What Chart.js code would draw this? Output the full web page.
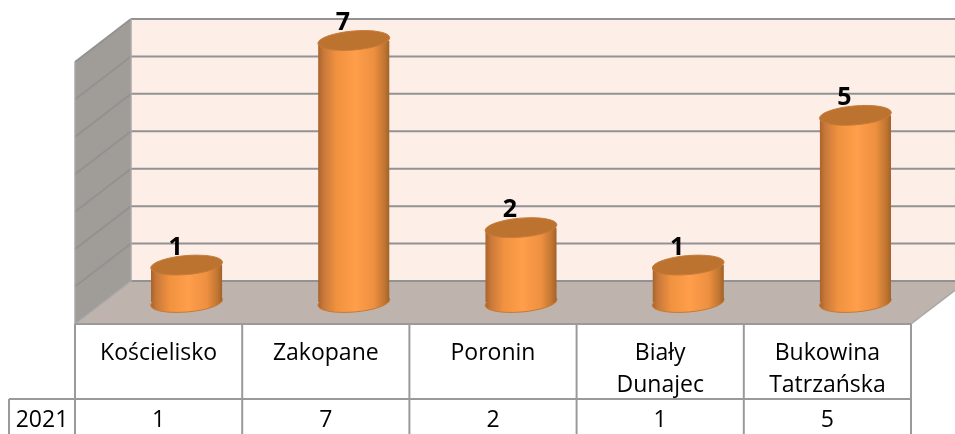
<!DOCTYPE html>
<html><head><meta charset="utf-8">
<style>html,body{margin:0;padding:0;background:#fff}canvas{display:block}</style>
<script src="https://cdn.jsdelivr.net/npm/chart.js@4"></script></head>
<body><canvas id="c" width="955" height="434"></canvas>
<script>
const categories=[['Kościelisko'],['Zakopane'],['Poronin'],['Biały','Dunajec'],['Bukowina','Tatrzańska']];
const values=[1,7,2,1,5];
const seriesName='2021';
const FONT='"Open Sans"';
const DX=28,DY=21.5,RX=36,RY=9.5,ROT=-0.085;
const ex=RX*Math.cos(ROT),ey=RX*Math.sin(ROT);
function bodyGrad(ctx,x){
  const g=ctx.createLinearGradient(x-RX,0,x+RX,0);
  g.addColorStop(0,'#a5622a');g.addColorStop(.08,'#c9783a');g.addColorStop(.26,'#f0923f');
  g.addColorStop(.52,'#ff9e4b');g.addColorStop(.78,'#ee9040');g.addColorStop(.93,'#bf7531');g.addColorStop(1,'#a06026');
  return g;
}
function line(c,a,b,d,e){c.beginPath();c.moveTo(a,b);c.lineTo(d,e);c.stroke();}
const scene={
  id:'scene',
  beforeDatasetsDraw(ch){
    const c=ch.ctx,X=ch.scales.x,Y=ch.scales.y,l=X.left,r=X.right,t=Y.top,b=Y.bottom;
    c.save();
    c.fillStyle='#fdeee7';c.fillRect(l+DX,t-DY,r-l,b-t);
    c.fillStyle='#a09c98';c.beginPath();c.moveTo(l+DX,t-DY);c.lineTo(l-DX,t+DY);c.lineTo(l-DX,b+DY);c.lineTo(l+DX,b-DY);c.closePath();c.fill();
    c.fillStyle='#bfb3ae';c.beginPath();c.moveTo(l+DX,b-DY);c.lineTo(r+DX,b-DY);c.lineTo(r-DX,b+DY);c.lineTo(l-DX,b+DY);c.closePath();c.fill();
    c.strokeStyle='#929292';c.lineWidth=2;
    Y.ticks.forEach(k=>{const y=Y.getPixelForValue(k.value);
      line(c,l+DX,y-DY,r+DX,y-DY);
      if(k.value>0)line(c,l+DX,y-DY,l-DX,y+DY);
    });
    c.strokeStyle='#a8a8a8';c.lineWidth=1.5;
    line(c,l+DX,t-DY,l+DX,b-DY);
    line(c,l-DX,t+DY,l-DX,b+DY);
    line(c,r-DX,b+DY,r+DX,b-DY);
    line(c,l+DX,b-DY,l-DX,b+DY);
    c.strokeStyle='#9a9a9a';c.lineWidth=2;
    const row0=b+DY,row1=row0+75,bot=ch.height,cw=X.getPixelForValue(1)-X.getPixelForValue(0);
    line(c,l-DX,row0,r-DX,row0);
    line(c,9,row1,r-DX,row1);
    line(c,9,row1,9,bot);
    for(let i=0;i<=values.length;i++)line(c,l-DX+i*cw,row0,l-DX+i*cw,bot);
    c.fillStyle='#000';c.font='23px '+FONT;c.textAlign='center';c.textBaseline='middle';
    values.forEach((v,i)=>c.fillText(String(v),X.getPixelForValue(i)-DX,row1+21));
    c.fillText(seriesName,42,row1+21);
    c.restore();
  },
  beforeDatasetDraw(ch){
    const c=ch.ctx,m=ch.getDatasetMeta(0);
    m.data.forEach(e=>{
      c.save();c.fillStyle=bodyGrad(c,e.x);c.strokeStyle='#c47a35';c.lineWidth=1;
      c.beginPath();c.ellipse(e.x,e.base,RX,RY,ROT,0,Math.PI*2);c.fill();c.stroke();c.restore();
    });
    c.save();c.beginPath();
    m.data.forEach(e=>{
      c.moveTo(e.x-ex,e.y-ey);c.lineTo(e.x+ex,e.y+ey);c.lineTo(e.x+ex,e.base+ey);c.lineTo(e.x-ex,e.base-ey);c.closePath();
    });
    c.clip();
  },
  afterDatasetDraw(ch){ch.ctx.restore();},
  afterDatasetsDraw(ch){
    const c=ch.ctx,m=ch.getDatasetMeta(0);
    c.save();
    m.data.forEach((e,i)=>{
      c.fillStyle='#bd7330';c.strokeStyle='#c77c38';c.lineWidth=1;
      c.beginPath();c.ellipse(e.x,e.y,RX,RY,ROT,0,Math.PI*2);c.fill();c.stroke();
    });
    c.fillStyle='#000';c.font='bold 25px '+FONT;c.textAlign='center';c.textBaseline='middle';
    m.data.forEach((e,i)=>c.fillText(String(values[i]),e.x-11,e.y-17.5));
    c.restore();
  }
};
new Chart(document.getElementById('c'),{
  type:'bar',
  data:{labels:categories,datasets:[{label:seriesName,data:values,
    backgroundColor(ctx){
      const s=ctx.chart.scales.x,px=s&&ctx.dataIndex!==undefined?s.getPixelForValue(ctx.dataIndex):NaN;
      return Number.isFinite(px)?bodyGrad(ctx.chart.ctx,px):'#ff9e4b';},
    borderWidth:0,categoryPercentage:1,barPercentage:.426}]},
  options:{responsive:false,animation:false,devicePixelRatio:1,
    layout:{padding:{left:103,right:16,top:40.5,bottom:0}},
    plugins:{legend:{display:false},title:{display:false},tooltip:{enabled:false}},
    scales:{
      y:{display:false,min:0,max:7,ticks:{stepSize:1}},
      x:{grid:{display:false},border:{display:false},
        afterFit(s){s.height=131.5;},
        ticks:{autoSkip:false,maxRotation:0,minRotation:0,labelOffset:-DX,padding:27,color:'#000',font:{family:FONT,size:23,lineHeight:1.39}}}
    }
  },
  plugins:[scene]
});
</script></body></html>
